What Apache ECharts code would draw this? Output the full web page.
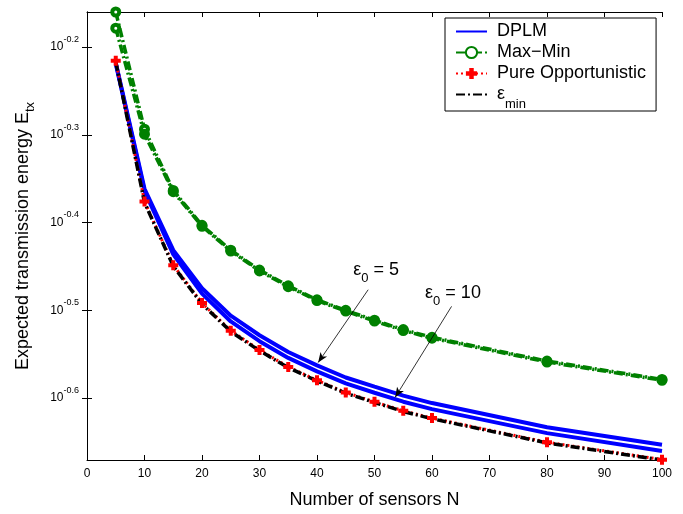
<!DOCTYPE html>
<html>
<head>
<meta charset="utf-8">
<script src="https://cdn.jsdelivr.net/npm/echarts@6/dist/echarts.min.js"></script>
<style>
html, body { margin: 0; padding: 0; background: #fff; }
#chart { width: 683px; height: 514px; }
</style>
</head>
<body>
<div id="chart"></div>
<script>
// number of sensors
const sensors = [5, 10, 15, 20, 25, 30, 35, 40, 45, 50, 55, 60, 80, 100];

// expected transmission energy
const dplmEps5 = [0.6055, 0.4349, 0.3702, 0.3350, 0.3117, 0.2961, 0.2834, 0.2736, 0.2650, 0.2587, 0.2527, 0.2478, 0.2326, 0.2221];
const dplmEps10 = [0.6040, 0.4326, 0.3661, 0.3303, 0.3070, 0.2915, 0.2790, 0.2693, 0.2609, 0.2546, 0.2487, 0.2439, 0.2290, 0.2185];
const maxMinEps5 = [0.6918, 0.5085, 0.4330, 0.3952, 0.3702, 0.3514, 0.3371, 0.3250, 0.3161, 0.3080, 0.3005, 0.2945, 0.2767, 0.2637];
const maxMinEps10 = [0.6630, 0.5020, 0.4316, 0.3942, 0.3694, 0.3506, 0.3364, 0.3243, 0.3155, 0.3073, 0.2998, 0.2938, 0.2760, 0.2631];
const pureOpp = [0.6086, 0.4207, 0.3559, 0.3222, 0.2997, 0.2849, 0.2725, 0.2631, 0.2548, 0.2486, 0.2428, 0.2382, 0.2236, 0.2136];
const epsMin = [0.6070, 0.4195, 0.3550, 0.3214, 0.2990, 0.2843, 0.2720, 0.2626, 0.2543, 0.2482, 0.2424, 0.2378, 0.2232, 0.2134];

// y tick exponents (10^e)
const yTickExp = [-0.6, -0.5, -0.4, -0.3, -0.2];

const FONT = 'Liberation Sans, Arial, Helvetica, sans-serif';
const pairs = vals => sensors.map((n, i) => [n, vals[i]]);
const yTickVals = yTickExp.map(e => Math.pow(10, e));

const chart = echarts.init(document.getElementById('chart'));

const plus = 'path://M3,0H7V3H10V7H7V10H3V7H0V3H3Z';
const dashDot = [9, 3, 2, 3];

function xAx(pos, show) {
    return {
        type: 'value', position: pos, min: 0, max: 100, interval: 10,
        axisLine: { show: true, lineStyle: { color: '#000', width: 1 } },
        axisTick: { show: true, inside: true, length: 5, lineStyle: { color: '#000' } },
        axisLabel: { show: show, color: '#000', fontSize: 12, fontFamily: FONT, margin: 8 },
        splitLine: { show: false },
        name: show ? 'Number of sensors N' : '',
        nameLocation: 'middle', nameGap: 31,
        nameTextStyle: { color: '#000', fontSize: 18, fontFamily: FONT }
    };
}

function yAx(pos, show) {
    return {
        type: 'log', logBase: 10, position: pos, min: 0.2134, max: 0.6918,
        axisLine: { show: true, lineStyle: { color: '#000', width: 1 } },
        axisTick: { show: true, inside: true, length: 5, customValues: yTickVals, lineStyle: { color: '#000' } },
        axisLabel: {
            show: show, customValues: yTickVals, margin: 8,
            formatter: v => '{b|10}{s|' + (Math.round(Math.log10(v) * 10) / 10).toFixed(1) + '}',
            rich: {
                b: { fontSize: 12, fontFamily: FONT, color: '#000', lineHeight: 24 },
                s: { fontSize: 9, fontFamily: FONT, color: '#000', verticalAlign: 'top' }
            }
        },
        splitLine: { show: false },
        minorTick: { show: false },
        name: show ? 'Expected transmission energy E{s|tx}' : '',
        nameLocation: 'middle', nameRotate: 90, nameGap: 50,
        nameTextStyle: {
            color: '#000', fontSize: 18, fontFamily: FONT, lineHeight: 28,
            rich: { s: { fontSize: 13, fontFamily: FONT, color: '#000', verticalAlign: 'bottom' } }
        }
    };
}

// the ε0=10 Max-Min markers look filled where they overlap the ε0=5 ones
const maxMin10Data = pairs(maxMinEps10).map((p, i) =>
    i === 0 ? { value: p, itemStyle: { color: '#fff' } } : p);

const option = {
    animation: false,
    backgroundColor: '#fff',
    grid: { left: 87, right: 21, top: 12, bottom: 51 },
    xAxis: [xAx('bottom', true), xAx('top', false)],
    yAxis: [yAx('left', true), yAx('right', false)],
    legend: {
        left: 445, top: 18, orient: 'vertical',
        backgroundColor: '#fff', borderColor: '#000', borderWidth: 1, borderRadius: 0,
        padding: [3, 10, 0, 10],
        itemWidth: 31, itemHeight: 14, itemGap: 0,
        data: [
            { name: 'DPLM', itemStyle: { opacity: 0 } },
            'Max−Min',
            'Pure Opportunistic',
            { name: 'εmin', itemStyle: { opacity: 0 } }
        ],
        textStyle: {
            fontSize: 18, fontFamily: FONT, color: '#000', lineHeight: 21, padding: [0, 0, 0, 5],
            rich: {
                e: { fontSize: 18, fontFamily: FONT, color: '#000', lineHeight: 21 },
                m: { fontSize: 13, fontFamily: FONT, color: '#000', verticalAlign: 'bottom', padding: [0, 0, -6, 0] }
            }
        },
        formatter: name => name === 'εmin' ? '{e|ε}{m|min}' : name,
        selectedMode: false
    },
    series: [
        {
            name: 'DPLM', type: 'line', data: pairs(dplmEps5), symbol: 'none',
            lineStyle: { color: '#0000ff', width: 4 }, itemStyle: { color: '#0000ff' },
            markLine: {
                silent: true, symbol: ['none', 'arrow'], symbolSize: [6, 10],
                label: { show: false },
                lineStyle: { color: '#000', width: 0.8, type: 'solid' },
                data: [
                    [{ coord: [48.9, 0.3337] }, { coord: [40.2, 0.2756] }],
                    [{ coord: [63.4, 0.3194] }, { coord: [53.6, 0.2516] }]
                ]
            }
        },
        {
            name: 'DPLM', type: 'line', data: pairs(dplmEps10), symbol: 'none',
            lineStyle: { color: '#0000ff', width: 4 }, itemStyle: { color: '#0000ff' }
        },
        {
            name: 'Max−Min', type: 'line', data: pairs(maxMinEps5), clip: false,
            symbol: 'circle', symbolSize: 7,
            lineStyle: { color: '#008000', width: 3.5, type: dashDot },
            itemStyle: { color: '#fff', borderColor: '#008000', borderWidth: 4 }
        },
        {
            name: 'Max−Min', type: 'line', data: maxMin10Data, clip: false,
            symbol: 'circle', symbolSize: 7,
            lineStyle: { color: '#008000', width: 3.5, type: dashDot },
            itemStyle: { color: '#008000', borderColor: '#008000', borderWidth: 4 }
        },
        {
            name: 'Pure Opportunistic', type: 'line', data: pairs(pureOpp), clip: false,
            symbol: plus, symbolSize: 10,
            lineStyle: { color: '#ff0000', width: 3, type: [2, 3] },
            itemStyle: { color: '#ff0000' }
        },
        {
            name: 'εmin', type: 'line', data: pairs(epsMin), symbol: 'none',
            lineStyle: { color: '#000', width: 3.5, type: dashDot },
            itemStyle: { color: '#000' }
        }
    ]
};

chart.setOption(option);

// ε0 labels next to the arrows, placed in data coordinates
const labelAt = [[46.3, 0.3511, '5'], [58.8, 0.3307, '10']];
chart.setOption({
    graphic: labelAt.map(([n, v, t]) => {
        const p = chart.convertToPixel({ xAxisIndex: 0, yAxisIndex: 0 }, [n, v]);
        return {
            type: 'text', x: p[0], y: p[1],
            style: {
                text: '{e|ε}{s|0}{e| = ' + t + '}',
                textVerticalAlign: 'middle',
                rich: {
                    e: { fontSize: 18, fontFamily: FONT, fill: '#000', lineHeight: 30 },
                    s: { fontSize: 13, fontFamily: FONT, fill: '#000', verticalAlign: 'bottom' }
                }
            }
        };
    })
});
</script>
</body>
</html>
